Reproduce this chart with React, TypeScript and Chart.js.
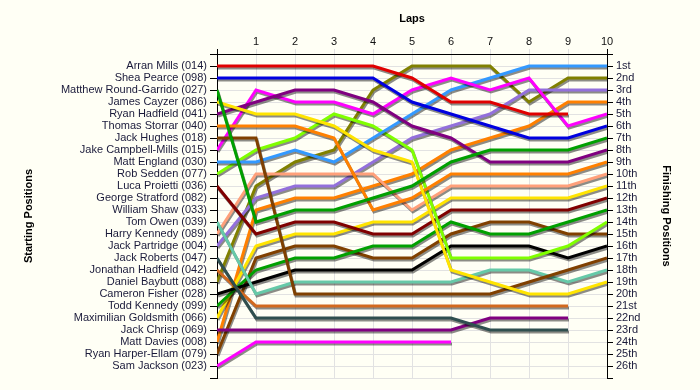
import React, { useEffect, useRef } from 'react';
import { Chart, registerables } from 'chart.js';

Chart.register(...registerables);

const laps = [0, 1, 2, 3, 4, 5, 6, 7, 8, 9, 10];

const startLabels = [
  'Arran Mills (014)',
  'Shea Pearce (098)',
  'Matthew Round-Garrido (027)',
  'James Cayzer (086)',
  'Ryan Hadfield (041)',
  'Thomas Storrar (040)',
  'Jack Hughes (018)',
  'Jake Campbell-Mills (015)',
  'Matt England (030)',
  'Rob Sedden (077)',
  'Luca Proietti (036)',
  'George Stratford (082)',
  'William Shaw (033)',
  'Tom Owen (039)',
  'Harry Kennedy (089)',
  'Jack Partridge (004)',
  'Jack Roberts (047)',
  'Jonathan Hadfield (042)',
  'Daniel Baybutt (088)',
  'Cameron Fisher (028)',
  'Todd Kennedy (099)',
  'Maximilian Goldsmith (066)',
  'Jack Chrisp (069)',
  'Matt Davies (008)',
  'Ryan Harper-Ellam (079)',
  'Sam Jackson (023)',
];

const finishLabels = [
  '1st', '2nd', '3rd', '4th', '5th', '6th', '7th', '8th', '9th', '10th',
  '11th', '12th', '13th', '14th', '15th', '16th', '17th', '18th', '19th', '20th',
  '21st', '22nd', '23rd', '24th', '25th', '26th',
];

const lineColors = [
  '#e00000', '#0000e0', '#00a000', '#ffe400', '#800080', '#ff8000', '#804000',
  '#ff00ff', '#3399ff', '#80ff00', '#800000', '#ff9966', '#996633', '#66c9a8',
  '#ffa07a', '#9370db', '#2f4f4f', '#d2691e', '#808000', '#000000', '#00a000',
  '#ffe400', '#800080', '#ff8000', '#804000', '#ff00ff',
];

// position of each driver (in starting order) after each lap; null = retired
const lapPositions: (number | null)[][] = [
  [1, 1, 1, 1, 1, 2, 4, 4, 5, 5, null],
  [2, 2, 2, 2, 2, 4, 5, 6, 7, 7, 6],
  [3, 14, 13, 13, 12, 11, 9, 8, 8, 8, 7],
  [4, 5, 5, 6, 8, 9, 18, 19, 20, 20, 19],
  [5, 4, 3, 3, 4, 6, 7, 9, 9, 9, 8],
  [6, 6, 6, 7, 13, 12, 10, 10, 10, 10, 9],
  [7, 7, 20, 20, 20, 20, 20, 20, 19, 18, 17],
  [8, 3, 4, 4, 5, 3, 2, 3, 2, 6, 5],
  [9, 9, 8, 9, 7, 5, 3, 2, 1, 1, 1],
  [10, 8, 7, 5, 6, 8, 17, 17, 17, 16, 14],
  [11, 15, 14, 14, 15, 15, 13, 13, 13, 13, 12],
  [12, null, null, null, null, null, null, null, null, null, null],
  [13, null, null, null, null, null, null, null, null, null, null],
  [14, 20, 19, 19, 19, 19, 19, 18, 18, 19, 18],
  [15, 10, 10, 10, 10, 13, 11, 11, 11, 11, 10],
  [16, 12, 11, 11, 9, 7, 6, 5, 3, 3, 3],
  [17, 22, 22, 22, 22, 22, 22, 23, 23, 23, null],
  [18, 21, 21, 21, 21, 21, 21, 21, 21, 21, null],
  [19, 11, 9, 8, 3, 1, 1, 1, 4, 2, 2],
  [20, 19, 18, 18, 18, 18, 16, 16, 16, 17, 16],
  [21, 18, 17, 17, 16, 16, 14, 15, 15, 14, 13],
  [22, 16, 15, 15, 14, 14, 12, 12, 12, 12, 11],
  [23, 23, 23, 23, 23, 23, 23, 22, 22, 22, null],
  [24, 13, 12, 12, 11, 10, 8, 7, 6, 4, 4],
  [25, 17, 16, 16, 17, 17, 15, 14, 14, 15, 15],
  [26, 24, 24, 24, 24, 24, 24, null, null, null, null],
];

const FONT = "'Liberation Sans', Arial, sans-serif";
const LABEL_COLOR = '#1a1a3a';
const GRID_COLOR = '#e2e2e2';

const bgPlugin = {
  id: 'bgFill',
  beforeDraw(chart: any) {
    const { ctx, width, height } = chart;
    ctx.save();
    ctx.fillStyle = '#fffff5';
    ctx.fillRect(0, 0, width, height);
    ctx.restore();
  },
};

const shadowPlugin = {
  id: 'lineShadow',
  beforeDatasetDraw(chart: any) {
    const ctx = chart.ctx;
    ctx.save();
    ctx.shadowColor = 'rgba(0,0,0,0.45)';
    ctx.shadowOffsetX = 1;
    ctx.shadowOffsetY = 2;
    ctx.shadowBlur = 0;
  },
  afterDatasetDraw(chart: any) {
    chart.ctx.restore();
  },
};

export default function App() {
  const canvasRef = useRef<HTMLCanvasElement | null>(null);

  useEffect(() => {
    if (!canvasRef.current) return;
    Chart.defaults.font.family = FONT;
    const datasets = startLabels.map((name, i) => ({
      label: name,
      data: laps.map((lap, j) => ({ x: lap, y: lapPositions[i][j] })),
      borderColor: lineColors[i],
      backgroundColor: lineColors[i],
      borderWidth: 3,
      pointRadius: 0,
      pointHoverRadius: 0,
      fill: false,
      tension: 0,
      spanGaps: false,
      xAxisID: 'x',
      yAxisID: 'y',
    }));

    const chart = new Chart(canvasRef.current, {
      type: 'line',
      data: { datasets },
      plugins: [bgPlugin, shadowPlugin],
      options: {
        animation: false,
        responsive: false,
        devicePixelRatio: 1,
        layout: { padding: { left: 0, right: 0, top: 0, bottom: 12 } },
        plugins: {
          legend: { display: false },
          tooltip: { enabled: false },
        },
        scales: {
          x: {
            type: 'linear',
            position: 'top',
            min: 0,
            max: 10,
            afterFit(scale: any) {
              scale.height = 54;
            },
            ticks: {
              stepSize: 1,
              autoSkip: false,
              maxRotation: 0,
              padding: 0,
              color: '#111',
              font: { family: FONT, size: 11 },
              callback: (v: any) => (v === 0 ? '' : String(v)),
            },
            grid: {
              color: (c: any) => (c.tick && (c.tick.value === 0 || c.tick.value === 10) ? 'rgba(0,0,0,0)' : GRID_COLOR),
              tickColor: (c: any) => (c.tick && (c.tick.value === 0 || c.tick.value === 10) ? '#000' : GRID_COLOR),
              tickLength: 5,
            },
            border: { display: true, color: '#000', width: 1 },
            title: {
              display: true,
              text: 'Laps',
              color: '#000',
              font: { family: FONT, size: 11, weight: 'bold' },
              padding: { top: 12, bottom: 0 },
            },
          },
          y: {
            type: 'linear',
            position: 'left',
            reverse: true,
            min: 0,
            max: 27,
            afterFit(scale: any) {
              scale.width = 217;
            },
            ticks: {
              stepSize: 1,
              autoSkip: false,
              padding: 3,
              color: LABEL_COLOR,
              font: { family: FONT, size: 11 },
              callback: (v: any) => startLabels[v - 1] ?? '',
            },
            grid: {
              color: GRID_COLOR,
              tickColor: '#000',
              tickLength: 7,
            },
            border: { display: true, color: '#000', width: 1 },
            title: {
              display: true,
              text: 'Starting Positions',
              color: '#000',
              font: { family: FONT, size: 11, weight: 'bold' },
              padding: { top: 22, bottom: 0 },
            },
          },
          y2: {
            type: 'linear',
            position: 'right',
            reverse: true,
            min: 0,
            max: 27,
            afterFit(scale: any) {
              scale.width = 93;
            },
            ticks: {
              stepSize: 1,
              autoSkip: false,
              padding: 3,
              color: LABEL_COLOR,
              font: { family: FONT, size: 11 },
              callback: (v: any) => finishLabels[v - 1] ?? '',
            },
            grid: {
              drawOnChartArea: false,
              tickColor: '#000',
              tickLength: 6,
            },
            border: { display: true, color: '#000', width: 1 },
            title: {
              display: true,
              text: 'Finishing Positions',
              color: '#000',
              font: { family: FONT, size: 11, weight: 'bold' },
              padding: { top: 27, bottom: 0 },
            },
          },
        },
      } as any,
    });
    return () => chart.destroy();
  }, []);

  return (
    <div style={{ position: 'fixed', left: 0, top: 0, width: 700, height: 390, background: '#fffff5' }}>
      <canvas ref={canvasRef} width={700} height={390} style={{ width: 700, height: 390, display: 'block' }} />
    </div>
  );
}
